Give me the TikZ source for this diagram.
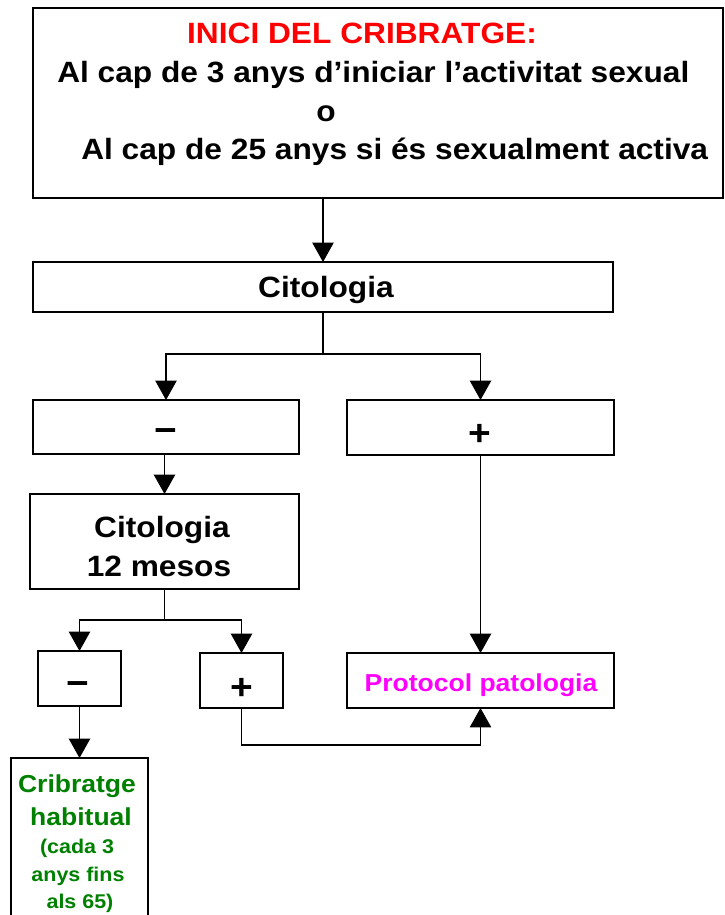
\documentclass[tikz,border=0pt]{standalone}
\usepackage{fontspec}
\setmainfont{Liberation Sans}[FakeStretch=1.08]
\usetikzlibrary{arrows.meta,fit}
\definecolor{titlered}{RGB}{255,0,0}
\definecolor{protomag}{RGB}{255,0,255}
\definecolor{cribgreen}{RGB}{0,128,0}
\tikzset{
  box/.style={draw=black, line width=1pt, inner sep=0pt, outer sep=0pt, fill=white},
  conn/.style={line width=0.8pt},
  arr/.style={conn, -{Triangle[length=14.5pt,width=16pt]}},
  txt/.style={inner sep=0pt, anchor=base, align=center},
  big/.style={txt, font=\fontsize{22pt}{26pt}\selectfont\bfseries},
  mid/.style={txt, font=\fontsize{18.4pt}{22pt}\selectfont\bfseries},
  small/.style={txt, font=\fontsize{14.9pt}{18pt}\selectfont\bfseries},
  sign/.style={txt, font=\fontsize{27pt}{31pt}\selectfont\bfseries},
}
\begin{document}
\begin{tikzpicture}[x=0.75pt, y=-0.75pt]
\useasboundingbox (0,0) rectangle (725,915);
\clip (0,0) rectangle (725,915);

% boxes
\node[box, fit={(33,8) (723,198)}] (start) {};
\node[box, fit={(33,262) (613,312)}] (cit) {};
\node[box, fit={(33,400) (299,454)}] (neg) {};
\node[box, fit={(347,400) (614,455)}] (pos) {};
\node[box, fit={(30,494) (299,589)}] (cit12) {};
\node[box, fit={(38,651) (121,706)}] (neg12) {};
\node[box, fit={(200,653) (283,708)}] (pos12) {};
\node[box, fit={(347,653) (614,708)}] (proto) {};
\node[box, fit={(11,758) (148,925)}] (crib) {};

% texts
\node[big, text=titlered] (t1) at (362,43) {INICI DEL CRIBRATGE:};
\node[big, anchor=base west] (t2) at (57,82) {Al cap de 3 anys d’iniciar l’activitat sexual};
\node[big] (t3) at (326,121) {o};
\node[big, anchor=base west] (t4) at (81,159) {Al cap de 25 anys si és sexualment activa};

\node[big] (tcit) at (326,297) {Citologia};
\node[sign] (tneg) at (166,442) {−};
\node[sign] (tpos) at (480,445) {+};

\node[big] (tc12a) at (162,537) {Citologia};
\node[big] (tc12b) at (159,576) {12 mesos};

\node[sign] (tneg12) at (78,695) {−};
\node[sign] (tpos12) at (242,699) {+};
\node[mid, text=protomag] (tproto) at (481,691) {Protocol patologia};

\node[mid, text=cribgreen] (tcr1) at (77,792) {Cribratge};
\node[mid, text=cribgreen] (tcr2) at (81,825) {habitual};
\node[small, text=cribgreen] (tcr3) at (77,853) {(cada 3};
\node[small, text=cribgreen] (tcr4) at (78,881) {anys fins};
\node[small, text=cribgreen] (tcr5) at (80,908) {als 65)};

% connectors
\draw[arr] (cit.north |- start.south) -- (cit.north);
\draw[arr] (cit.south) -- ++(0,42) -| (neg.north);
\draw[arr] (cit.south) -- ++(0,42) -| (pos.north);
\draw[arr] (neg.south -| cit12.north) -- (cit12.north);
\draw[arr] (cit12.south) -- ++(0,31) -| (neg12.north);
\draw[arr] (cit12.south) -- ++(0,31) -| (pos12.north);
\draw[arr] (pos.south) -- (proto.north);
\draw[arr] (neg12.south) -- (crib.north);
\draw[arr] (pos12.south) -- ++(0,37) -| (proto.south);
\end{tikzpicture}
\end{document}
